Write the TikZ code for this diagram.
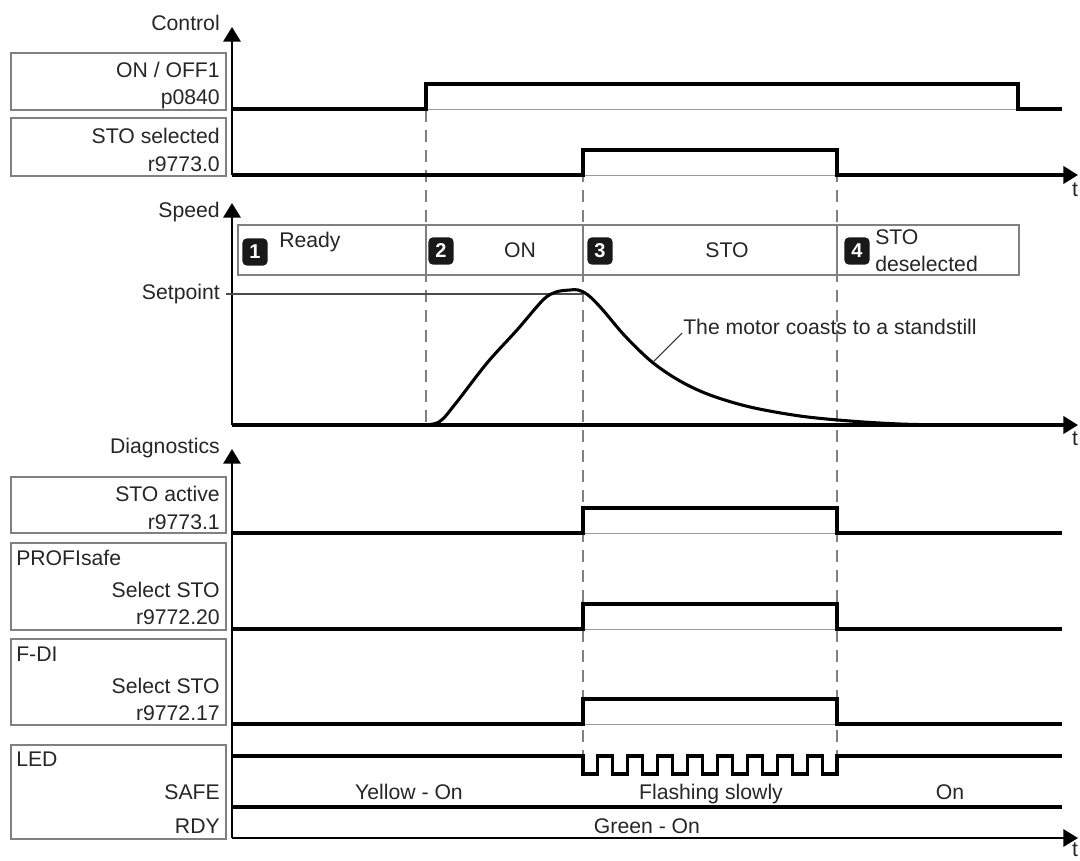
\documentclass[tikz,border=0pt]{standalone}
\usepackage{fontspec}
\setmainfont{Liberation Sans}
\usetikzlibrary{arrows.meta}
\begin{document}
\begin{tikzpicture}[x=0.75pt,y=-0.75pt,
  lbl/.style={font=\fontsize{15.9}{18}\selectfont, text=black!85, inner sep=0pt},
  lblbox/.style={draw=black!50, line width=1.1pt},
  sig/.style={line width=2.3pt, line join=miter, line cap=butt},
  baseln/.style={draw=black!40, line width=0.7pt},
  axisv/.style={line width=1.6pt, -{Triangle[length=11pt,width=13pt]}},
  axish/.style={line width=2.3pt, -{Triangle[length=11pt,width=13pt]}},
  vdash/.style={draw=black!50, line width=0.9pt, dash pattern=on 9pt off 6pt},
  badge/.style={fill=black!90, rounded corners=3.5pt, minimum width=19pt, minimum height=20.5pt, text=white, font=\fontsize{15}{15}\bfseries\selectfont, inner sep=0pt}
]
\useasboundingbox (0,0) rectangle (1080,860);

% ---------------- label boxes ----------------
\draw[lblbox] (11,53) rectangle (226,110);
\draw[lblbox] (11,118) rectangle (226,176);
\draw[lblbox] (11,477) rectangle (226,533);
\draw[lblbox] (11,543) rectangle (226,630);
\draw[lblbox] (11,639) rectangle (226,725);
\draw[lblbox] (11,745) rectangle (226,839);

% ---------------- texts ----------------
\node[lbl, anchor=base east] (tcontrol) at (220,31) {Control};
\node[lbl, anchor=base east] (tonoff) at (220,77) {ON / OFF1};
\node[lbl, anchor=base east] (tp0840) at (220,104) {p0840};
\node[lbl, anchor=base east] (tstosel) at (220,143) {STO selected};
\node[lbl, anchor=base east] (tr0) at (220,171) {r9773.0};
\node[lbl, anchor=base east] (tspeed) at (220,217) {Speed};
\node[lbl, anchor=base east] (tsetp) at (220,299) {Setpoint};
\node[lbl, anchor=base east] (tdiag) at (220,453) {Diagnostics};
\node[lbl, anchor=base east] (tstoact) at (220,501) {STO active};
\node[lbl, anchor=base east] (tr1) at (220,529) {r9773.1};
\node[lbl, anchor=base west] (tprofi) at (16,565) {PROFIsafe};
\node[lbl, anchor=base east] (tsel1) at (220,597) {Select STO};
\node[lbl, anchor=base east] (tr20) at (220,624) {r9772.20};
\node[lbl, anchor=base west] (tfdi) at (16,661) {F-DI};
\node[lbl, anchor=base east] (tsel2) at (220,693) {Select STO};
\node[lbl, anchor=base east] (tr17) at (220,720) {r9772.17};
\node[lbl, anchor=base west] (tled) at (16,766) {LED};
\node[lbl, anchor=base east] (tsafe) at (220,799) {SAFE};
\node[lbl, anchor=base east] (trdy) at (220,833) {RDY};

\node[lbl, anchor=base] (tyellow) at (409,799) {Yellow - On};
\node[lbl, anchor=base] (tflash) at (711,799) {Flashing slowly};
\node[lbl, anchor=base] (ton) at (950,799) {On};
\node[lbl, anchor=base] (tgreen) at (647,833) {Green - On};

\node[lbl, anchor=north] (t1) at (1075,183) {t};
\node[lbl, anchor=north] (t2) at (1075,432) {t};
\node[lbl, anchor=north] (t3) at (1075,843) {t};

% ---------------- dashed time markers ----------------
\draw[vdash] (426,110) -- (426,425);
\draw[vdash] (583,150) -- (583,757);
\draw[vdash] (837,150) -- (837,757);

% ---------------- phase box ----------------
\draw[lblbox, fill=white] (238,225) rectangle (1019,275);
\draw[lblbox] (426,225) -- (426,275);
\draw[lblbox] (583,225) -- (583,275);
\draw[lblbox] (837,225) -- (837,275);
\node[badge] (b1) at (255,252) {1};
\node[badge] (b2) at (441,251) {2};
\node[badge] (b3) at (600,251) {3};
\node[badge] (b4) at (857,251) {4};
\node[lbl, anchor=base west] (tready) at (279,247) {Ready};
\node[lbl, anchor=base] (tonph) at (520,257) {ON};
\node[lbl, anchor=base] (tstoph) at (727,257) {STO};
\node[lbl, anchor=base west] (tstodes) at (875,244) {STO};
\node[lbl, anchor=base west] (tdesel) at (875,271) {deselected};

% ---------------- thin baselines under pulses ----------------
\draw[baseln] (426,109) -- (1018,109);
\draw[baseln] (583,175) -- (837,175);
\draw[baseln] (583,533) -- (837,533);
\draw[baseln] (583,629) -- (837,629);
\draw[baseln] (583,724) -- (837,724);

% ---------------- axes ----------------
\draw[axisv] (232,175) -- (232,27);
\draw[axisv] (232,425) -- (232,203);
\draw[axisv] (232,838) -- (232,449);
\draw[axish] (232,425) -- (1078,425);
\draw[line width=1.6pt, -{Triangle[length=11pt,width=13pt]}] (232,838) -- (1078,838);

% setpoint
\draw[black!70, line width=0.8pt] (226,294) -- (583,294);

% ---------------- signals ----------------
\draw[sig] (232,109) -- (426,109) -- (426,84) -- (1018,84) -- (1018,109) -- (1062,109);
\draw[sig, -{Triangle[length=11pt,width=13pt]}] (232,175) -- (583,175) -- (583,150) -- (837,150) -- (837,175) -- (1078,175);
\draw[sig] (232,533) -- (583,533) -- (583,508) -- (837,508) -- (837,533) -- (1062,533);
\draw[sig] (232,629) -- (583,629) -- (583,604) -- (837,604) -- (837,629) -- (1062,629);
\draw[sig] (232,724) -- (583,724) -- (583,699) -- (837,699) -- (837,724) -- (1062,724);
\draw[sig] (232,756) -- (583,756) -- (583,774)
  \foreach \i in {0,...,7} {
    -- ({583+(2*\i+1)*14.94},774) -- ({583+(2*\i+1)*14.94},756)
    -- ({583+(2*\i+2)*14.94},756) -- ({583+(2*\i+2)*14.94},774)
  } -- (837,774) -- (837,756) -- (1062,756);
\draw[sig] (232,807) -- (1062,807);

% speed curve
\draw[sig, line join=round] (232,425) -- (420,425)
  plot[smooth, tension=0.55] coordinates {(420,425) (439,422) (456,403) (487,363) (517,330) (543,300) (556,292) (570,290) (578,290)
    (588,295) (602,309) (625,336) (652,362) (680,381) (710,395) (750,407) (800,416) (850,421) (900,424) (950,425) (990,425)};

% annotation
\node[lbl, anchor=base west] (tcoast) at (683,334) {The motor coasts to a standstill};
\coordinate (cpt) at (653,362);
\coordinate (lstart) at (682,333);
\draw[black!80, line width=0.8pt] (lstart) -- (cpt);
\end{tikzpicture}
\end{document}
